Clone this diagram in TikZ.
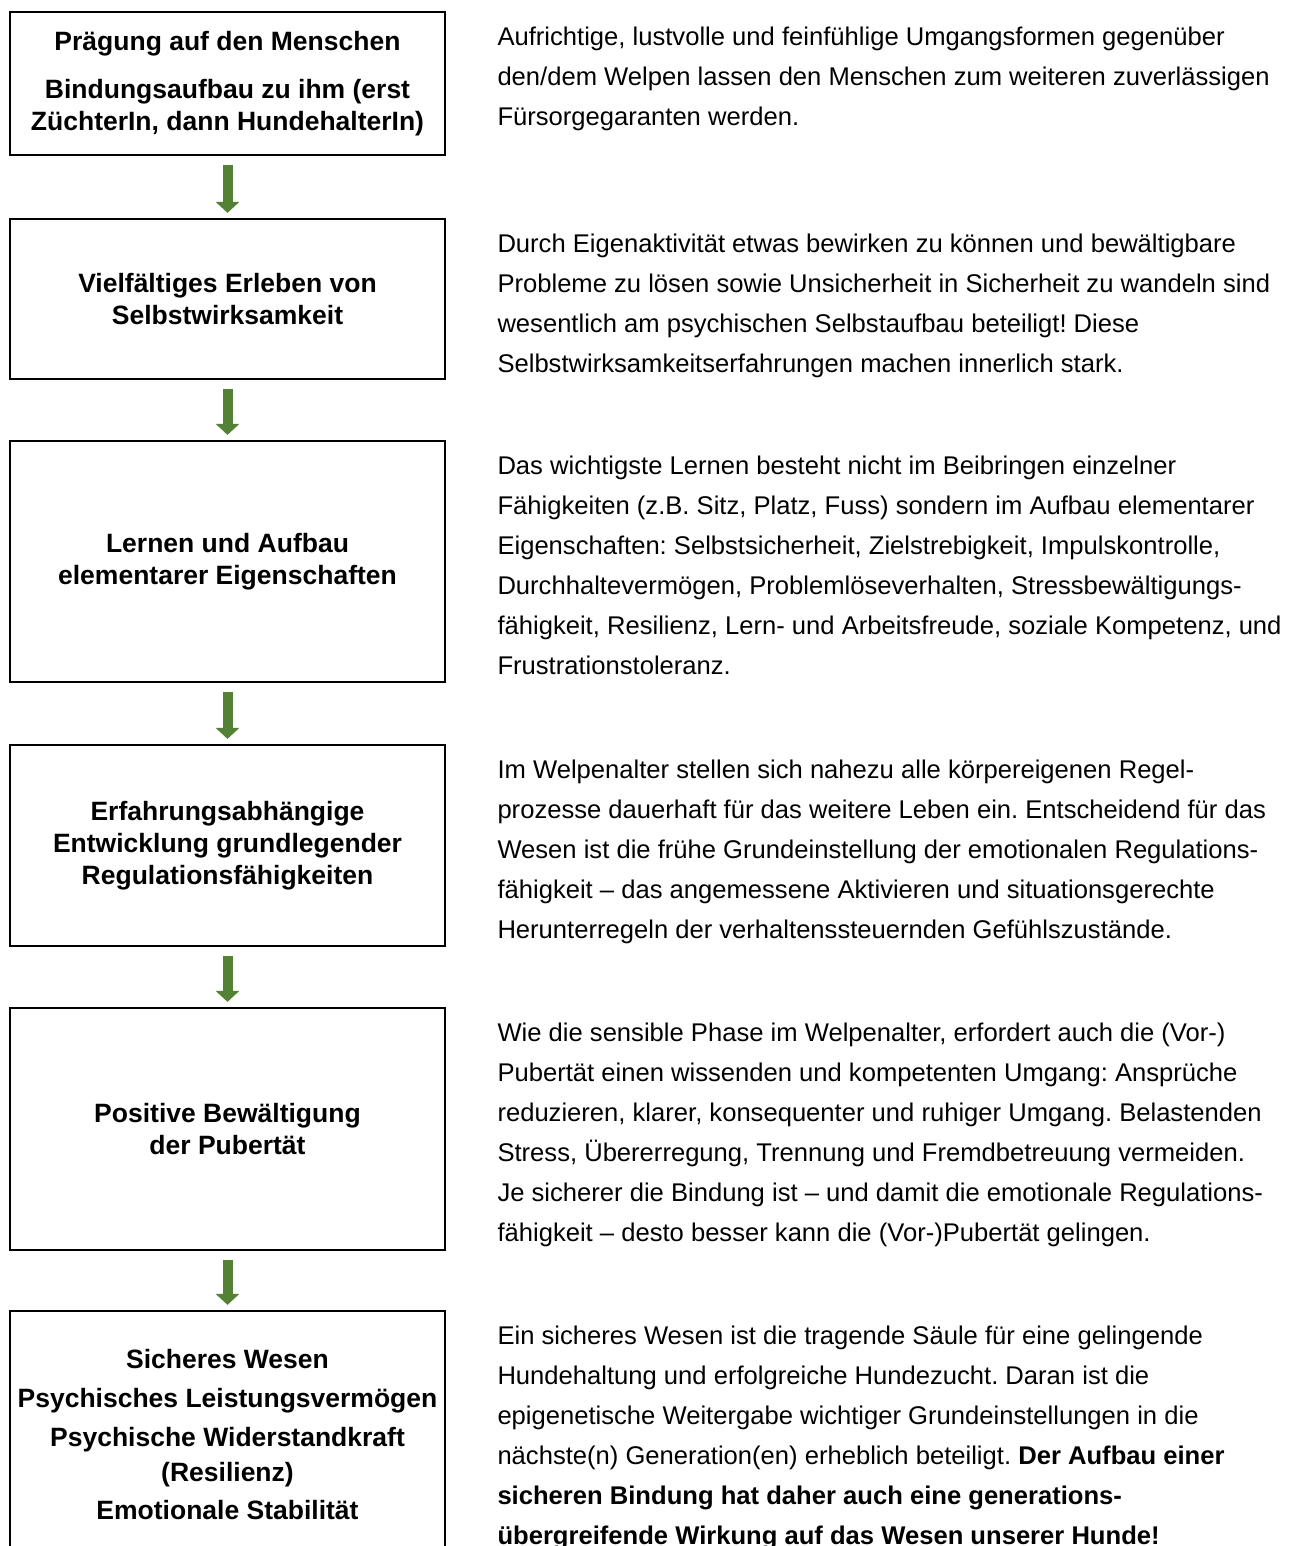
\documentclass[tikz,border=0pt]{standalone}
\usepackage{fontspec}
\setmainfont{Liberation Sans}
\usepackage{tikz}
\usepackage{xcolor}
\usetikzlibrary{positioning,arrows.meta}
\frenchspacing

\definecolor{arrowgreen}{HTML}{548235}

\tikzset{
  stagebox/.style={draw=black, line width=1.1pt, minimum width=217.5pt, align=center,
    font=\bfseries\fontsize{13.25pt}{16pt}\selectfont},
  desc/.style={align=left, inner sep=0pt, font=\fontsize{12.8pt}{20pt}\selectfont},
  downarrow/.style={draw=arrowgreen, line width=5pt, shorten <=4.5pt, shorten >=2.5pt,
    -{Triangle[width=11.5pt,length=5.5pt]}}
}

\begin{document}
\begin{tikzpicture}[x=0.5pt, y=-0.5pt]
  \useasboundingbox[fill=white] (0,0) rectangle (1315,1546);

  % stages on the left
  \node[stagebox, minimum height=71.5pt] (b1) at (227.5,83.5)
    {Prägung auf den Menschen\\[8pt] Bindungsaufbau zu ihm (erst\\ ZüchterIn, dann HundehalterIn)};
  \node[stagebox, minimum height=80pt] (b2) at (227.5,299)
    {Vielfältiges Erleben von\\ Selbstwirksamkeit};
  \node[stagebox, minimum height=120.5pt] (b3) at (227.5,561.5)
    {Lernen und Aufbau\\ elementarer Eigenschaften};
  \node[stagebox, minimum height=100.5pt] (b4) at (227.5,845.5)
    {Erfahrungsabhängige\\ Entwicklung grundlegender\\ Regulationsfähigkeiten};
  \node[stagebox, minimum height=121pt] (b5) at (227.5,1129)
    {Positive Bewältigung\\ der Pubertät};
  \node[stagebox, minimum height=123.5pt] (b6) at (227.5,1434.5)
    {Sicheres Wesen\\[3.5pt] Psychisches Leistungsvermögen\\[3.5pt] Psychische Widerstandkraft\\[1.5pt]
     (Resilienz)\\[3pt] Emotionale Stabilität};

  \foreach \from/\to in {b1/b2, b2/b3, b3/b4, b4/b5, b5/b6}
    \draw[downarrow] (\from.south) -- (\to.north);

  % explanations on the right
  \node[desc, below right=8pt and 25.5pt of b1.north east] (d1)
    {Aufrichtige, lustvolle und feinfühlige Umgangsformen gegenüber\\
     den/dem Welpen lassen den Menschen zum weiteren zuverlässigen\\
     Fürsorgegaranten werden.};
  \node[desc, below right=8pt and 25.5pt of b2.north east] (d2)
    {Durch Eigenaktivität etwas bewirken zu können und bewältigbare\\
     Probleme zu lösen sowie Unsicherheit in Sicherheit zu wandeln sind\\
     wesentlich am psychischen Selbstaufbau beteiligt! Diese\\
     Selbstwirksamkeitserfahrungen machen innerlich stark.};
  \node[desc, below right=8pt and 25.5pt of b3.north east] (d3)
    {Das wichtigste Lernen besteht nicht im Beibringen einzelner\\
     Fähigkeiten (z.B. Sitz, Platz, Fuss) sondern im Aufbau elementarer\\
     Eigenschaften: Selbstsicherheit, Zielstrebigkeit, Impulskontrolle,\\
     Durchhaltevermögen, Problemlöseverhalten, Stressbewältigungs-\\
     fähigkeit, Resilienz, Lern- und Arbeitsfreude, soziale Kompetenz, und\\
     Frustrationstoleranz.};
  \node[desc, below right=8pt and 25.5pt of b4.north east] (d4)
    {Im Welpenalter stellen sich nahezu alle körpereigenen Regel-\\
     prozesse dauerhaft für das weitere Leben ein. Entscheidend für das\\
     Wesen ist die frühe Grundeinstellung der emotionalen Regulations-\\
     fähigkeit – das angemessene Aktivieren und situationsgerechte\\
     Herunterregeln der verhaltenssteuernden Gefühlszustände.};
  \node[desc, below right=8pt and 25.5pt of b5.north east] (d5)
    {Wie die sensible Phase im Welpenalter, erfordert auch die (Vor-)\\
     Pubertät einen wissenden und kompetenten Umgang: Ansprüche\\
     reduzieren, klarer, konsequenter und ruhiger Umgang. Belastenden\\
     Stress, Übererregung, Trennung und Fremdbetreuung vermeiden.\\
     Je sicherer die Bindung ist – und damit die emotionale Regulations-\\
     fähigkeit – desto besser kann die (Vor-)Pubertät gelingen.};
  \node[desc, below right=8pt and 25.5pt of b6.north east] (d6)
    {Ein sicheres Wesen ist die tragende Säule für eine gelingende\\
     Hundehaltung und erfolgreiche Hundezucht. Daran ist die\\
     epigenetische Weitergabe wichtiger Grundeinstellungen in die\\
     nächste(n) Generation(en) erheblich beteiligt. \textbf{Der Aufbau einer}\\
     \textbf{sicheren Bindung hat daher auch eine generations-}\\
     \textbf{übergreifende Wirkung auf das Wesen unserer Hunde!}};
\end{tikzpicture}
\end{document}
